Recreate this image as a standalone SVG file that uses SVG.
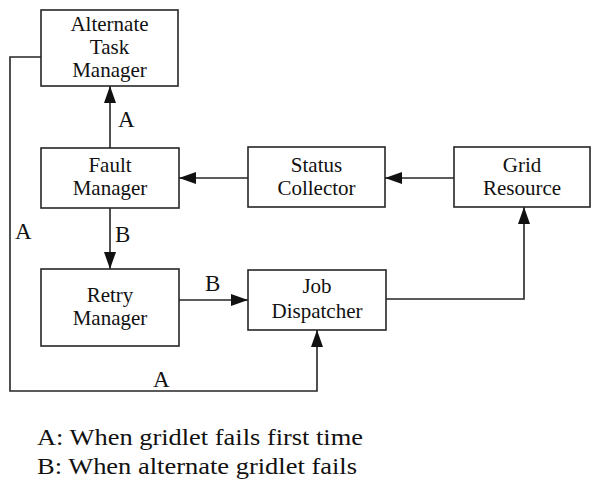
<svg xmlns="http://www.w3.org/2000/svg" width="592" height="479" viewBox="0 0 592 479">
  <style>
    text { font-family: Liberation Serif, Times New Roman, Times, Tinos, serif; fill: #111111; }
    .box { fill: #ffffff; stroke: #262626; stroke-width: 1.6; }
    .lbl { font-size: 21px; text-anchor: middle; }
    .tag { font-size: 23px; }
    .wire { fill: none; stroke: #262626; stroke-width: 1.6; }
    .legend { font-size: 23px; }
  </style>
  <defs>
    <marker id="arrow" markerUnits="userSpaceOnUse" markerWidth="17" markerHeight="12" refX="17" refY="6" orient="auto">
      <path d="M0,0 L17,6 L0,12 z" fill="#111111"/>
    </marker>
  </defs>
  <rect width="592" height="479" fill="#ffffff"/>

  <g id="connectors">
    <path class="wire" d="M110,148 L110,86" marker-end="url(#arrow)"/>
    <path class="wire" d="M110,208 L110,269" marker-end="url(#arrow)"/>
    <path class="wire" d="M248,178 L179,178" marker-end="url(#arrow)"/>
    <path class="wire" d="M454,178 L385,178" marker-end="url(#arrow)"/>
    <path class="wire" d="M386,299 L524,299 L524,207" marker-end="url(#arrow)"/>
    <path class="wire" d="M179,300 L248,300" marker-end="url(#arrow)"/>
    <path class="wire" d="M41,57 L10,57 L10,391 L317,391 L317,330" marker-end="url(#arrow)"/>
    <text class="tag" x="118" y="127">A</text>
    <text class="tag" x="115" y="242">B</text>
    <text class="tag" x="15" y="239">A</text>
    <text class="tag" x="205" y="291">B</text>
    <text class="tag" x="153" y="387">A</text>
  </g>

  <g id="alternate-task-manager">
    <rect class="box" x="41" y="10" width="137" height="76"/>
    <text class="lbl" x="109.5" y="31">Alternate</text>
    <text class="lbl" x="109.5" y="54">Task</text>
    <text class="lbl" x="109.5" y="77">Manager</text>
  </g>

  <g id="fault-manager">
    <rect class="box" x="41" y="148" width="138" height="60"/>
    <text class="lbl" x="110" y="172">Fault</text>
    <text class="lbl" x="110" y="195">Manager</text>
  </g>

  <g id="status-collector">
    <rect class="box" x="248" y="147" width="137" height="60"/>
    <text class="lbl" x="316.5" y="172">Status</text>
    <text class="lbl" x="316.5" y="195">Collector</text>
  </g>

  <g id="grid-resource">
    <rect class="box" x="454" y="147" width="136" height="60"/>
    <text class="lbl" x="522" y="172">Grid</text>
    <text class="lbl" x="522" y="195">Resource</text>
  </g>

  <g id="retry-manager">
    <rect class="box" x="41" y="269" width="138" height="77"/>
    <text class="lbl" x="110" y="302">Retry</text>
    <text class="lbl" x="110" y="325">Manager</text>
  </g>

  <g id="job-dispatcher">
    <rect class="box" x="248" y="270" width="138" height="60"/>
    <text class="lbl" x="317" y="293">Job</text>
    <text class="lbl" x="317" y="318">Dispatcher</text>
  </g>

  <g id="legend">
    <text class="legend" x="37" y="445" textLength="326" lengthAdjust="spacingAndGlyphs">A: When gridlet fails first time</text>
    <text class="legend" x="37" y="474" textLength="320" lengthAdjust="spacingAndGlyphs">B: When alternate gridlet fails</text>
  </g>
</svg>
